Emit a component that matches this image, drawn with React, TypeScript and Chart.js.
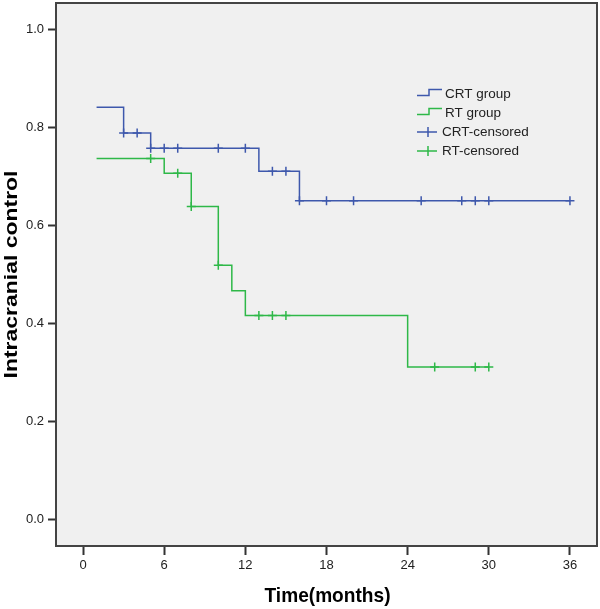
import React, { useEffect, useRef } from "react";
import { Chart, registerables } from "chart.js";

Chart.register(...registerables);

// ---- Data ----
const crtTimes = [1, 3, 5, 13, 16, 36];
const crtSurvival = [0.842, 0.789, 0.758, 0.711, 0.651, 0.651];
const crtCensoredTimes = [3, 4, 5, 6, 7, 10, 12, 14, 15, 16, 18, 20, 25, 28, 29, 30, 36];

const rtTimes = [1, 6, 8, 10, 11, 12, 24, 30];
const rtSurvival = [0.737, 0.707, 0.639, 0.519, 0.467, 0.416, 0.311, 0.311];
const rtCensoredTimes = [5, 7, 8, 10, 13, 14, 15, 26, 29, 30];

const xTickValues = [0, 6, 12, 18, 24, 30, 36];
const yTickValues = [0, 0.2, 0.4, 0.6, 0.8, 1.0];
const legendLabels = ["CRT group", "RT group", "CRT-censored", "RT-censored"];
const xTitle = "Time(months)";
const yTitle = "Intracranial control";

const CRT_COLOR = "#3E58AC";
const RT_COLOR = "#2EB848";
const FONT = "Arial, 'Liberation Sans', sans-serif";

function survivalAt(times: number[], surv: number[], t: number): number {
  let v = surv[0];
  for (let i = 0; i < times.length; i++) {
    if (times[i] <= t) v = surv[i];
  }
  return v;
}

const bgPlugin = {
  id: "plotBg",
  beforeDraw(chart: any) {
    const { ctx, chartArea } = chart;
    ctx.save();
    ctx.fillStyle = "#f0f0f0";
    ctx.fillRect(chartArea.left, chartArea.top, chartArea.right - chartArea.left, chartArea.bottom - chartArea.top);
    ctx.restore();
  },
  afterDraw(chart: any) {
    const { ctx, chartArea } = chart;
    ctx.save();
    ctx.strokeStyle = "#444";
    ctx.lineWidth = 2;
    ctx.strokeRect(chartArea.left, chartArea.top, chartArea.right - chartArea.left, chartArea.bottom - chartArea.top);
    ctx.restore();
  },
};

const titlePlugin = {
  id: "axisTitles",
  afterDraw(chart: any) {
    const { ctx, chartArea } = chart;
    ctx.save();
    ctx.fillStyle = "#000";
    ctx.textAlign = "center";
    ctx.textBaseline = "middle";

    // x-axis title
    ctx.save();
    ctx.font = `bold 18px ${FONT}`;
    const wx = ctx.measureText(xTitle).width;
    ctx.translate((chartArea.left + chartArea.right) / 2 + 1, 597);
    ctx.scale(126 / wx, 1.1);
    ctx.fillText(xTitle, 0, 0);
    ctx.restore();

    // y-axis title (rotated)
    ctx.save();
    ctx.font = `bold 19px ${FONT}`;
    const wy = ctx.measureText(yTitle).width;
    ctx.translate(11.5, (chartArea.top + chartArea.bottom) / 2);
    ctx.rotate(-Math.PI / 2);
    ctx.scale(208 / wy, 1);
    ctx.fillText(yTitle, 0, 0);
    ctx.restore();

    ctx.restore();
  },
};

const legendPlugin = {
  id: "kmLegend",
  afterDraw(chart: any) {
    const ctx = chart.ctx;
    const x0 = 417;
    const y0 = 94;
    const rowH = 19;
    const colors = [CRT_COLOR, RT_COLOR, CRT_COLOR, RT_COLOR];
    ctx.save();
    ctx.font = `13.5px ${FONT}`;
    ctx.textBaseline = "middle";
    ctx.textAlign = "left";
    legendLabels.forEach((label, i) => {
      const y = y0 + i * rowH;
      ctx.strokeStyle = colors[i];
      ctx.lineWidth = 1.5;
      ctx.beginPath();
      let tx;
      if (i < 2) {
        ctx.moveTo(x0, y + 1.5);
        ctx.lineTo(x0 + 12, y + 1.5);
        ctx.lineTo(x0 + 12, y - 4.5);
        ctx.lineTo(x0 + 25, y - 4.5);
        tx = x0 + 28;
      } else {
        ctx.moveTo(x0, y);
        ctx.lineTo(x0 + 20, y);
        ctx.moveTo(x0 + 11, y - 5);
        ctx.lineTo(x0 + 11, y + 5);
        tx = x0 + 25;
      }
      ctx.stroke();
      ctx.fillStyle = "#222";
      ctx.fillText(label, tx, y);
    });
    ctx.restore();
  },
};

export default function App() {
  const ref = useRef<HTMLCanvasElement>(null);

  useEffect(() => {
    const canvas = ref.current;
    if (!canvas) return;

    const crtLine = crtTimes.map((t, i) => ({ x: t, y: crtSurvival[i] }));
    const rtLine = rtTimes.map((t, i) => ({ x: t, y: rtSurvival[i] }));
    const crtCens = crtCensoredTimes.map((t) => ({ x: t, y: survivalAt(crtTimes, crtSurvival, t) }));
    const rtCens = rtCensoredTimes.map((t) => ({ x: t, y: survivalAt(rtTimes, rtSurvival, t) }));

    const chart = new Chart(canvas, {
      type: "line",
      data: {
        datasets: [
          {
            label: "CRT-censored",
            data: crtCens,
            showLine: false,
            pointStyle: "cross",
            pointRadius: 4.5,
            pointBorderWidth: 1.5,
            borderColor: CRT_COLOR,
            backgroundColor: CRT_COLOR,
          },
          {
            label: "RT-censored",
            data: rtCens,
            showLine: false,
            pointStyle: "cross",
            pointRadius: 4.5,
            pointBorderWidth: 1.5,
            borderColor: RT_COLOR,
            backgroundColor: RT_COLOR,
          },
          {
            label: "CRT group",
            data: crtLine,
            stepped: true,
            borderColor: CRT_COLOR,
            borderWidth: 1.5,
            pointRadius: 0,
            fill: false,
          },
          {
            label: "RT group",
            data: rtLine,
            stepped: true,
            borderColor: RT_COLOR,
            borderWidth: 1.5,
            pointRadius: 0,
            fill: false,
          },
        ] as any,
      },
      options: {
        animation: false,
        responsive: false,
        devicePixelRatio: 1,
        layout: { autoPadding: false, padding: { top: 3, right: 3, left: 0, bottom: 0 } },
        plugins: {
          legend: { display: false },
          tooltip: { enabled: false },
        },
        scales: {
          x: {
            type: "linear",
            min: -2,
            max: 38,
            afterBuildTicks: (scale: any) => {
              scale.ticks = xTickValues.map((v) => ({ value: v }));
            },
            afterFit: (scale: any) => {
              scale.height = 63;
              scale.paddingLeft = 0;
              scale.paddingRight = 0;
            },
            grid: {
              drawOnChartArea: false,
              drawTicks: true,
              tickLength: 9,
              tickWidth: 2,
              tickColor: "#333",
            },
            border: { display: false },
            ticks: {
              padding: 3,
              color: "#222",
              font: { family: FONT, size: 13 },
              maxRotation: 0,
              autoSkip: false,
              callback: (v: any) => String(v),
            },
            title: { display: false },
          },
          y: {
            type: "linear",
            min: -0.055,
            max: 1.055,
            afterBuildTicks: (scale: any) => {
              scale.ticks = yTickValues.map((v) => ({ value: v }));
            },
            afterFit: (scale: any) => {
              scale.width = 56;
              scale.paddingTop = 0;
              scale.paddingBottom = 0;
            },
            grid: {
              drawOnChartArea: false,
              drawTicks: true,
              tickLength: 8,
              tickWidth: 2,
              tickColor: "#333",
            },
            border: { display: false },
            ticks: {
              padding: 4,
              color: "#222",
              font: { family: FONT, size: 13 },
              autoSkip: false,
              callback: (v: any) => Number(v).toFixed(1),
            },
            title: { display: false },
          },
        },
      } as any,
      plugins: [bgPlugin, titlePlugin, legendPlugin],
    });

    return () => chart.destroy();
  }, []);

  return (
    <div style={{ position: "absolute", left: 0, top: 0, width: 600, height: 609, background: "#fff" }}>
      <canvas ref={ref} width={600} height={609} style={{ display: "block", width: 600, height: 609 }} />
    </div>
  );
}
